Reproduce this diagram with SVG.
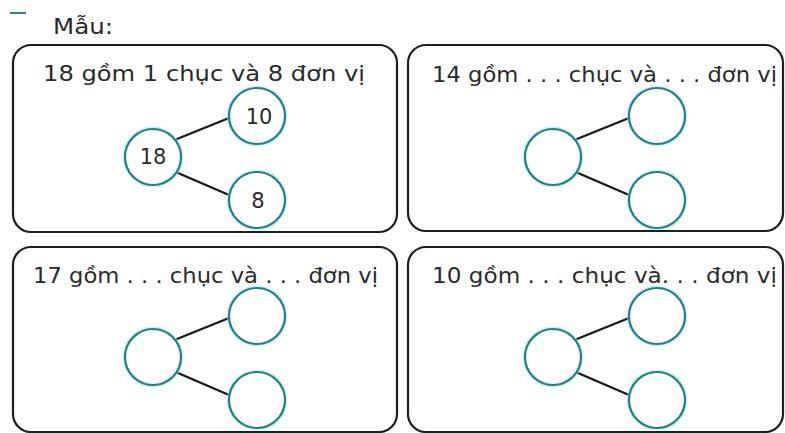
<svg xmlns="http://www.w3.org/2000/svg" width="785" height="433" viewBox="0 0 785 433">
  <style>
    .card { fill: none; stroke: #1e1e1e; stroke-width: 2.2; }
    .ring { fill: #ffffff; stroke: #1f7f8c; stroke-width: 2.2; }
    .halo { fill: none; stroke: #8fe6f0; stroke-width: 4.5; opacity: 0.55; }
    .link { stroke: #1a1a1a; stroke-width: 2.4; stroke-linecap: round; }
    .label { font-family: "DejaVu Sans", "Liberation Sans", sans-serif; font-size: 21px; fill: #2b2b2b; }
    .num { font-family: "DejaVu Sans", "Liberation Sans", sans-serif; font-size: 21px; fill: #2b2b2b; text-anchor: middle; }
  </style>
  <defs>
    <!-- one split diagram: whole on the left, two parts on the right -->
    <g id="split">
      <line class="link" x1="177" y1="139" x2="229" y2="118"/>
      <line class="link" x1="178" y1="173" x2="229" y2="195"/>
      <circle class="halo" cx="153" cy="157" r="28"/>
      <circle class="ring" cx="153" cy="157" r="28"/>
      <circle class="halo" cx="257" cy="116" r="28"/>
      <circle class="ring" cx="257" cy="116" r="28"/>
      <circle class="halo" cx="257" cy="200" r="28"/>
      <circle class="ring" cx="257" cy="200" r="28"/>
    </g>
  </defs>
  <rect width="785" height="433" fill="#ffffff"/>

  <!-- heading -->
  <line x1="10" y1="13" x2="26" y2="13" stroke="#2a8a96" stroke-width="2"/>
  <text class="label" x="53" y="34" font-size="22" textLength="60" lengthAdjust="spacingAndGlyphs">Mẫu:</text>

  <!-- example card -->
  <g id="card-18">
    <rect class="card" x="13" y="45" width="384" height="187" rx="18"/>
    <text class="label" x="43" y="81" textLength="322" lengthAdjust="spacingAndGlyphs">18 gồm 1 chục và 8 đơn vị</text>
  </g>
  <g id="card-14">
    <rect class="card" x="408" y="45" width="375" height="186" rx="18"/>
    <text class="label" x="432" y="82" textLength="345" lengthAdjust="spacingAndGlyphs">14 gồm . . . chục và . . . đơn vị</text>
  </g>
  <g id="card-17">
    <rect class="card" x="13" y="247" width="384" height="185" rx="18"/>
    <text class="label" x="33" y="283" textLength="345" lengthAdjust="spacingAndGlyphs">17 gồm . . . chục và . . . đơn vị</text>
  </g>
  <g id="card-10">
    <rect class="card" x="408" y="247" width="375" height="185" rx="18"/>
    <text class="label" x="432" y="283" textLength="345" lengthAdjust="spacingAndGlyphs">10 gồm . . . chục và. . . đơn vị</text>
  </g>

  <!-- split diagrams (connectors and circles) -->
  <g id="connectors">
    <use href="#split"/>
    <use href="#split" transform="translate(400,0)"/>
    <use href="#split" transform="translate(0,200)"/>
    <use href="#split" transform="translate(400,200)"/>
  </g>

  <!-- filled-in numbers of the example -->
  <g id="values-18">
    <text class="num" x="153" y="164">18</text>
    <text class="num" x="259" y="124">10</text>
    <text class="num" x="258" y="208">8</text>
  </g>
</svg>
